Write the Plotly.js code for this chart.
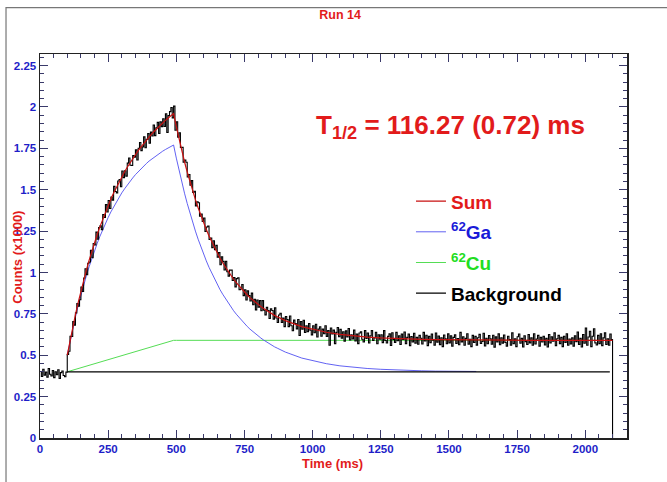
<!DOCTYPE html>
<html>
<head>
<meta charset="utf-8">
<script src="https://cdn.plot.ly/plotly-3.0.1.min.js"></script>
<style>html,body{margin:0;padding:0;background:#fff;}#chart{width:667px;height:482px;}</style>
</head>
<body>
<div id="chart"></div>
<script>
// ---- histogram data (counts x1000), 5 ms bins starting at 0 ms ----
const dataStart = 0;
const dataBin = 5;
const dataCounts = [
0.402,0.372,0.415,0.380,0.398,0.368,0.420,0.385,0.375,0.408,
0.365,0.400,0.382,0.412,0.360,0.395,0.405,0.378,0.370,0.398,
0.505,0.524,0.615,0.613,0.703,0.682,0.756,0.812,0.796,0.835,
0.912,0.885,0.967,1.023,0.986,1.056,1.063,1.134,1.089,1.175,
1.166,1.244,1.201,1.272,1.282,1.258,1.350,1.332,1.410,1.365,
1.435,1.387,1.456,1.437,1.520,1.489,1.481,1.553,1.562,1.518,
1.613,1.573,1.615,1.582,1.661,1.692,1.648,1.646,1.706,1.696,
1.741,1.680,1.751,1.785,1.736,1.759,1.819,1.754,1.804,1.839,
1.781,1.848,1.825,1.891,1.827,1.874,1.907,1.840,1.910,1.881,
1.929,1.882,1.959,1.846,1.948,1.972,1.997,1.934,2.005,1.859,
1.911,1.818,1.844,1.755,1.756,1.667,1.679,1.666,1.577,1.592,
1.528,1.555,1.483,1.491,1.402,1.427,1.421,1.340,1.353,1.308,
1.329,1.248,1.275,1.280,1.199,1.208,1.150,1.192,1.138,1.164,
1.093,1.120,1.047,1.095,1.067,1.015,1.067,1.004,0.978,1.014,
1.014,0.952,0.969,0.913,0.963,0.968,0.896,0.900,0.927,0.860,
0.896,0.834,0.889,0.861,0.828,0.875,0.805,0.838,0.774,0.834,
0.791,0.830,0.769,0.830,0.772,0.744,0.789,0.770,0.722,0.780,
0.770,0.718,0.786,0.725,0.698,0.743,0.754,0.698,0.724,0.673,
0.734,0.716,0.673,0.737,0.678,0.648,0.712,0.692,0.659,0.716,
0.619,0.704,0.658,0.711,0.637,0.678,0.642,0.692,0.652,0.623,
0.678,0.636,0.687,0.610,0.658,0.672,0.615,0.658,0.630,0.678,
0.614,0.649,0.560,0.665,0.629,0.652,0.570,0.638,0.668,0.612,
0.656,0.603,0.642,0.585,0.647,0.611,0.662,0.592,0.624,0.598,
0.652,0.586,0.628,0.570,0.634,0.641,0.597,0.580,0.649,0.602,
0.634,0.574,0.617,0.649,0.589,0.604,0.639,0.569,0.624,0.597,
0.624,0.576,0.649,0.589,0.574,0.614,0.629,0.559,0.636,0.596,
0.578,0.638,0.588,0.618,0.565,0.628,0.595,0.640,0.570,0.608,
0.628,0.558,0.613,0.580,0.633,0.573,0.608,0.566,0.620,0.603,
0.568,0.638,0.586,0.621,0.558,0.614,0.576,0.628,0.591,0.561,
0.634,0.579,0.616,0.564,0.606,0.552,0.622,0.599,0.569,0.629,
0.575,0.618,0.555,0.608,0.623,0.571,0.601,0.563,0.638,0.581,
0.612,0.560,0.602,0.630,0.567,0.597,0.552,0.620,0.577,0.614,
0.561,0.606,0.626,0.571,0.583,0.633,0.556,0.603,0.569,0.619,
0.599,0.566,0.621,0.549,0.611,0.581,0.629,0.563,0.606,0.573,
0.622,0.578,0.555,0.615,0.595,0.560,0.635,0.570,0.600,0.552,
0.612,0.628,0.572,0.602,0.550,0.618,0.582,0.565,0.625,0.575,
0.605,0.560,0.630,0.568,0.598,0.620,0.555,0.608,0.580,0.615,
0.562,0.602,0.550,0.625,0.575,0.612,0.585,0.635,0.558,0.600,
0.620,0.570,0.608,0.552,0.615,0.578,0.630,0.560,0.598,0.568,
0.605,0.555,0.618,0.582,0.640,0.565,0.602,0.550,0.625,0.572,
0.665,0.560,0.610,0.645,0.552,0.615,0.660,0.575,0.562,0.620,
0.570,0.630,0.558,0.605,0.635,0.565,0.600,0.560,0.628,0.595,
0
];

// ---- fit components (counts x1000) ----
const fitTime = [
100,110,120,130,140,150,160,170,180,190,200,210,220,230,240,250,260,270,280,290,
300,310,320,330,340,350,360,370,380,390,400,410,420,430,440,450,460,470,480,490,
500,510,520,530,540,550,560,570,580,590,600,610,620,630,640,650,660,670,680,690,
700,710,720,730,740,750,760,770,780,790,800,810,820,830,840,850,860,870,880,890,
900,910,920,930,940,950,960,970,980,990,1000,
1050,1100,1150,1200,1250,1300,1350,1400,1450,1500,
1600,1700,1800,1900,2000,2100
];
const sumValues = [
0.500,0.587,0.668,0.746,0.818,0.887,0.952,1.014,1.073,1.129,1.181,1.231,1.277,1.322,1.365,1.405,1.444,1.480,1.514,1.547,
1.578,1.607,1.636,1.663,1.688,1.713,1.736,1.758,1.779,1.799,1.819,1.837,1.855,1.872,1.888,1.904,1.919,1.933,1.947,1.960,
1.881,1.806,1.736,1.669,1.607,1.548,1.493,1.440,1.391,1.345,1.301,1.260,1.221,1.185,1.150,1.118,1.087,1.059,1.032,1.006,
0.982,0.959,0.938,0.918,0.899,0.881,0.864,0.848,0.833,0.819,0.806,0.794,0.782,0.771,0.760,0.750,0.741,0.733,0.724,0.716,
0.709,0.703,0.696,0.690,0.684,0.679,0.673,0.669,0.664,0.660,0.656,
0.639,0.626,0.617,0.610,0.605,0.601,0.598,0.596,0.594,0.593,
0.592,0.591,0.590,0.590,0.590,0.590
];
const gaValues = [
0.500,0.582,0.658,0.731,0.799,0.863,0.923,0.980,1.034,1.085,1.132,1.177,1.219,1.259,1.297,1.332,1.366,1.397,1.426,1.454,
1.481,1.505,1.529,1.551,1.571,1.591,1.609,1.626,1.643,1.658,1.673,1.686,1.699,1.711,1.722,1.733,1.743,1.753,1.762,1.770,
1.691,1.616,1.546,1.479,1.417,1.358,1.303,1.250,1.201,1.155,1.111,1.070,1.031,0.995,0.960,0.928,0.897,0.869,0.842,0.816,
0.792,0.769,0.748,0.728,0.709,0.691,0.674,0.658,0.643,0.629,0.616,0.604,0.592,0.581,0.570,0.560,0.551,0.543,0.534,0.526,
0.519,0.513,0.506,0.500,0.494,0.489,0.483,0.479,0.474,0.470,0.466,
0.449,0.436,0.427,0.420,0.415,0.411,0.408,0.406,0.404,0.403,
0.402,null,null,null,null,null
];
const cuValues = [
0.400,0.405,0.410,0.415,0.419,0.424,0.429,0.434,0.439,0.444,0.449,0.454,0.458,0.463,0.468,0.473,0.478,0.483,0.488,0.493,
0.497,0.502,0.507,0.512,0.517,0.522,0.527,0.532,0.536,0.541,0.546,0.551,0.556,0.561,0.566,0.571,0.575,0.580,0.585,0.590,
0.590,0.590,0.590,0.590,0.590,0.590,0.590,0.590,0.590,0.590,0.590,0.590,0.590,0.590,0.590,0.590,0.590,0.590,0.590,0.590,
0.590,0.590,0.590,0.590,0.590,0.590,0.590,0.590,0.590,0.590,0.590,0.590,0.590,0.590,0.590,0.590,0.590,0.590,0.590,0.590,
0.590,0.590,0.590,0.590,0.590,0.590,0.590,0.590,0.590,0.590,0.590,
0.590,0.590,0.590,0.590,0.590,0.590,0.590,0.590,0.590,0.590,
0.590,0.590,0.590,0.590,0.590,0.590
];
const bkgTime = [100, 2090];
const bkgValues = [0.400, 0.400];

// ---- axis ticks ----
const xTickVals = [0,250,500,750,1000,1250,1500,1750,2000];
const xTickText = ['0','250','500','750','1000','1250','1500','1750','2000'];
const yTickVals = [0,0.25,0.5,0.75,1,1.25,1.5,1.75,2,2.25];
const yTickText = ['0','0.25','0.5','0.75','1','1.25','1.5','1.75','2','2.25'];

const FONT = 'Liberation Sans, Arial, Helvetica, sans-serif';
const RED = '#e21b1b';
const TICKBLUE = '#1e1ec8';
const TICKCOL = '#3a3a6a';

const traces = [
  {x: fitTime, y: cuValues, type:'scatter', mode:'lines', name:'<span style="color:#22dd22"><sup>62</sup>Cu</span>',
   line:{color:'#55dd55', width:1}, legendrank:3, legendgroup:'cu', hoverinfo:'skip'},
  {x: fitTime, y: gaValues, type:'scatter', mode:'lines', name:'<span style="color:#1a1ad8"><sup>62</sup>Ga</span>',
   line:{color:'#5050f0', width:0.9}, legendrank:2, legendgroup:'ga', hoverinfo:'skip', connectgaps:false},
  {x0: dataStart, dx: dataBin, y: dataCounts, type:'scatter', mode:'lines', name:'data', showlegend:false,
   legendgroup:'data', line:{color:'#000000', width:1.1, shape:'hv'}, hoverinfo:'skip'},
  {x: bkgTime, y: bkgValues, type:'scatter', mode:'lines', name:'<span style="color:#000000">Background</span>',
   line:{color:'#000000', width:1.2}, legendrank:4, legendgroup:'bkg', hoverinfo:'skip'},
  {x: fitTime, y: sumValues, type:'scatter', mode:'lines', name:'<span style="color:#e31a1a">Sum</span>',
   line:{color:'#c81010', width:1.2}, legendrank:1, legendgroup:'sum', hoverinfo:'skip'}
];

const axisCommon = {
  ticks:'inside', ticklen:8, tickwidth:1, tickcolor:TICKCOL,
  showline:true, linecolor:'#222222', linewidth:1.5, mirror:'allticks',
  showgrid:false, zeroline:false,
  tickfont:{family:FONT, size:11.5, color:TICKBLUE, weight:'bold'},
  tickmode:'array'
};

const layout = {
  width:667, height:482,
  margin:{l:40, r:40, t:54, b:44},
  paper_bgcolor:'#ffffff', plot_bgcolor:'#ffffff',
  font:{family:FONT},
  title:{text:'Run 14', x:0.51, xanchor:'center', y:0.969, yanchor:'middle',
         font:{family:FONT, size:12.5, color:RED, weight:'bold'}},
  xaxis:Object.assign({}, axisCommon, {
    range:[0, 2153], tickvals:xTickVals, ticktext:xTickText,
    minor:{tickmode:'linear', tick0:0, dtick:50, ticks:'inside', ticklen:4, tickwidth:1, tickcolor:TICKCOL, showgrid:false}
  }),
  yaxis:Object.assign({}, axisCommon, {
    range:[0, 2.32], tickvals:yTickVals, ticktext:yTickText,
    minor:{tickmode:'linear', tick0:0, dtick:0.05, ticks:'inside', ticklen:4, tickwidth:1, tickcolor:TICKCOL, showgrid:false}
  }),
  showlegend:true,
  legend:{x:0.632, y:0.666, xanchor:'left', yanchor:'top', bgcolor:'rgba(0,0,0,0)',
          font:{family:FONT, size:19, color:'#000', weight:'bold'}, traceorder:'grouped',
          tracegroupgap:3, itemwidth:30},
  annotations:[
    {text:'Counts (x1000)', xref:'paper', yref:'paper', x:-0.0375, y:0.472, textangle:-90,
     xanchor:'center', yanchor:'middle', showarrow:false, font:{family:FONT, size:13, color:RED, weight:'bold'}},
    {text:'Time (ms)', xref:'paper', yref:'paper', x:0.499, y:-0.067,
     xanchor:'center', yanchor:'middle', showarrow:false, font:{family:FONT, size:13, color:RED, weight:'bold'}},
    {text:'T<sub>1/2</sub> = 116.27 (0.72) ms', xref:'paper', yref:'paper', x:0.6985, y:0.812,
     xanchor:'center', yanchor:'middle', showarrow:false, font:{family:FONT, size:26, color:RED, weight:'bold'}}
  ],
  shapes:[
    {type:'rect', xref:'paper', yref:'paper', x0:-0.0579, x1:1.2, y0:-0.2, y1:1.1206,
     line:{color:'#777777', width:1.2}, fillcolor:'rgba(0,0,0,0)', layer:'below'}
  ]
};

Plotly.newPlot('chart', traces, layout, {displayModeBar:false, staticPlot:true});
</script>
</body>
</html>
